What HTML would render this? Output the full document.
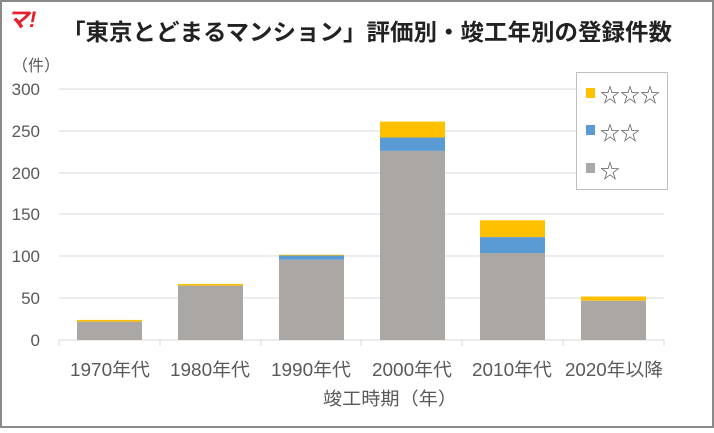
<!DOCTYPE html><html><head><meta charset="utf-8"><style>
body{margin:0;width:714px;height:428px;overflow:hidden;background:#fff;font-family:"Liberation Sans","Noto Sans CJK JP",sans-serif}
</style></head><body>
<svg width="714" height="428" xmlns="http://www.w3.org/2000/svg" font-family="Liberation Sans, Noto Sans CJK JP, sans-serif">
<rect x="1" y="1" width="712" height="426" fill="#fff" stroke="#8a8a8a" stroke-width="2"/>
<text x="7" y="27" font-size="22" font-weight="bold" font-style="italic" fill="#e8202a">マ!</text>
<text x="62" y="40" font-size="23" font-weight="bold" fill="#222" textLength="610" lengthAdjust="spacingAndGlyphs">「東京とどまるマンション」評価別・竣工年別の登録件数</text>
<text x="12" y="71" font-size="16" fill="#595959">（件）</text>
<g stroke="#d9d9d9" stroke-width="1">
<line x1="59" x2="664" y1="89" y2="89"/><line x1="59" x2="664" y1="131" y2="131"/><line x1="59" x2="664" y1="173" y2="173"/><line x1="59" x2="664" y1="214" y2="214"/><line x1="59" x2="664" y1="256" y2="256"/><line x1="59" x2="664" y1="298" y2="298"/><line x1="59" x2="664" y1="340" y2="340"/>
<line x1="59" x2="59" y1="340" y2="346"/><line x1="160" x2="160" y1="340" y2="346"/><line x1="261" x2="261" y1="340" y2="346"/><line x1="361" x2="361" y1="340" y2="346"/><line x1="462" x2="462" y1="340" y2="346"/><line x1="563" x2="563" y1="340" y2="346"/><line x1="664" x2="664" y1="340" y2="346"/>
</g>
<g font-size="17" fill="#595959" text-anchor="end">
<text x="40" y="95">300</text><text x="40" y="137">250</text><text x="40" y="179">200</text><text x="40" y="220">150</text><text x="40" y="262">100</text><text x="40" y="304">50</text><text x="40" y="346">0</text>
</g>
<g>
<rect x="77" y="321.6" width="65" height="18.4" fill="#aba7a4"/><rect x="77" y="319.9" width="65" height="1.7" fill="#ffc000"/>
<rect x="178" y="285.6" width="65" height="54.4" fill="#aba7a4"/><rect x="178" y="283.9" width="65" height="1.7" fill="#ffc000"/>
<rect x="279" y="259.7" width="65" height="80.3" fill="#aba7a4"/><rect x="279" y="255.5" width="65" height="4.2" fill="#5b9bd5"/><rect x="279" y="254.7" width="65" height="0.8" fill="#ffc000"/>
<rect x="380" y="150.9" width="65" height="189.1" fill="#aba7a4"/><rect x="380" y="137.5" width="65" height="13.4" fill="#5b9bd5"/><rect x="380" y="121.6" width="65" height="15.9" fill="#ffc000"/>
<rect x="480" y="253" width="65" height="87" fill="#aba7a4"/><rect x="480" y="237.1" width="65" height="15.9" fill="#5b9bd5"/><rect x="480" y="220.3" width="65" height="16.8" fill="#ffc000"/>
<rect x="581" y="300.7" width="65" height="39.3" fill="#aba7a4"/><rect x="581" y="296.5" width="65" height="4.2" fill="#ffc000"/>
</g>
<g font-size="18" fill="#595959" text-anchor="middle">
<text x="110" y="376" textLength="80" lengthAdjust="spacingAndGlyphs">1970年代</text><text x="210" y="376" textLength="80" lengthAdjust="spacingAndGlyphs">1980年代</text><text x="311" y="376" textLength="80" lengthAdjust="spacingAndGlyphs">1990年代</text><text x="412" y="376" textLength="80" lengthAdjust="spacingAndGlyphs">2000年代</text><text x="512" y="376" textLength="80" lengthAdjust="spacingAndGlyphs">2010年代</text><text x="614" y="376" textLength="98" lengthAdjust="spacingAndGlyphs">2020年以降</text>
<text x="390" y="405" textLength="134" lengthAdjust="spacingAndGlyphs">竣工時期（年）</text>
</g>
<rect x="576.5" y="72.5" width="91" height="117" fill="#fff" stroke="#bfbfbf"/>
<rect x="586" y="88" width="9" height="10" fill="#ffc000"/>
<rect x="586" y="125" width="9" height="10" fill="#5b9bd5"/>
<rect x="586" y="163" width="9" height="10" fill="#aba7a4"/>
<g font-size="20" fill="#595959">
<text x="600" y="102">☆☆☆</text><text x="600" y="140">☆☆</text><text x="600" y="178">☆</text>
</g>
</svg>
</body></html>
